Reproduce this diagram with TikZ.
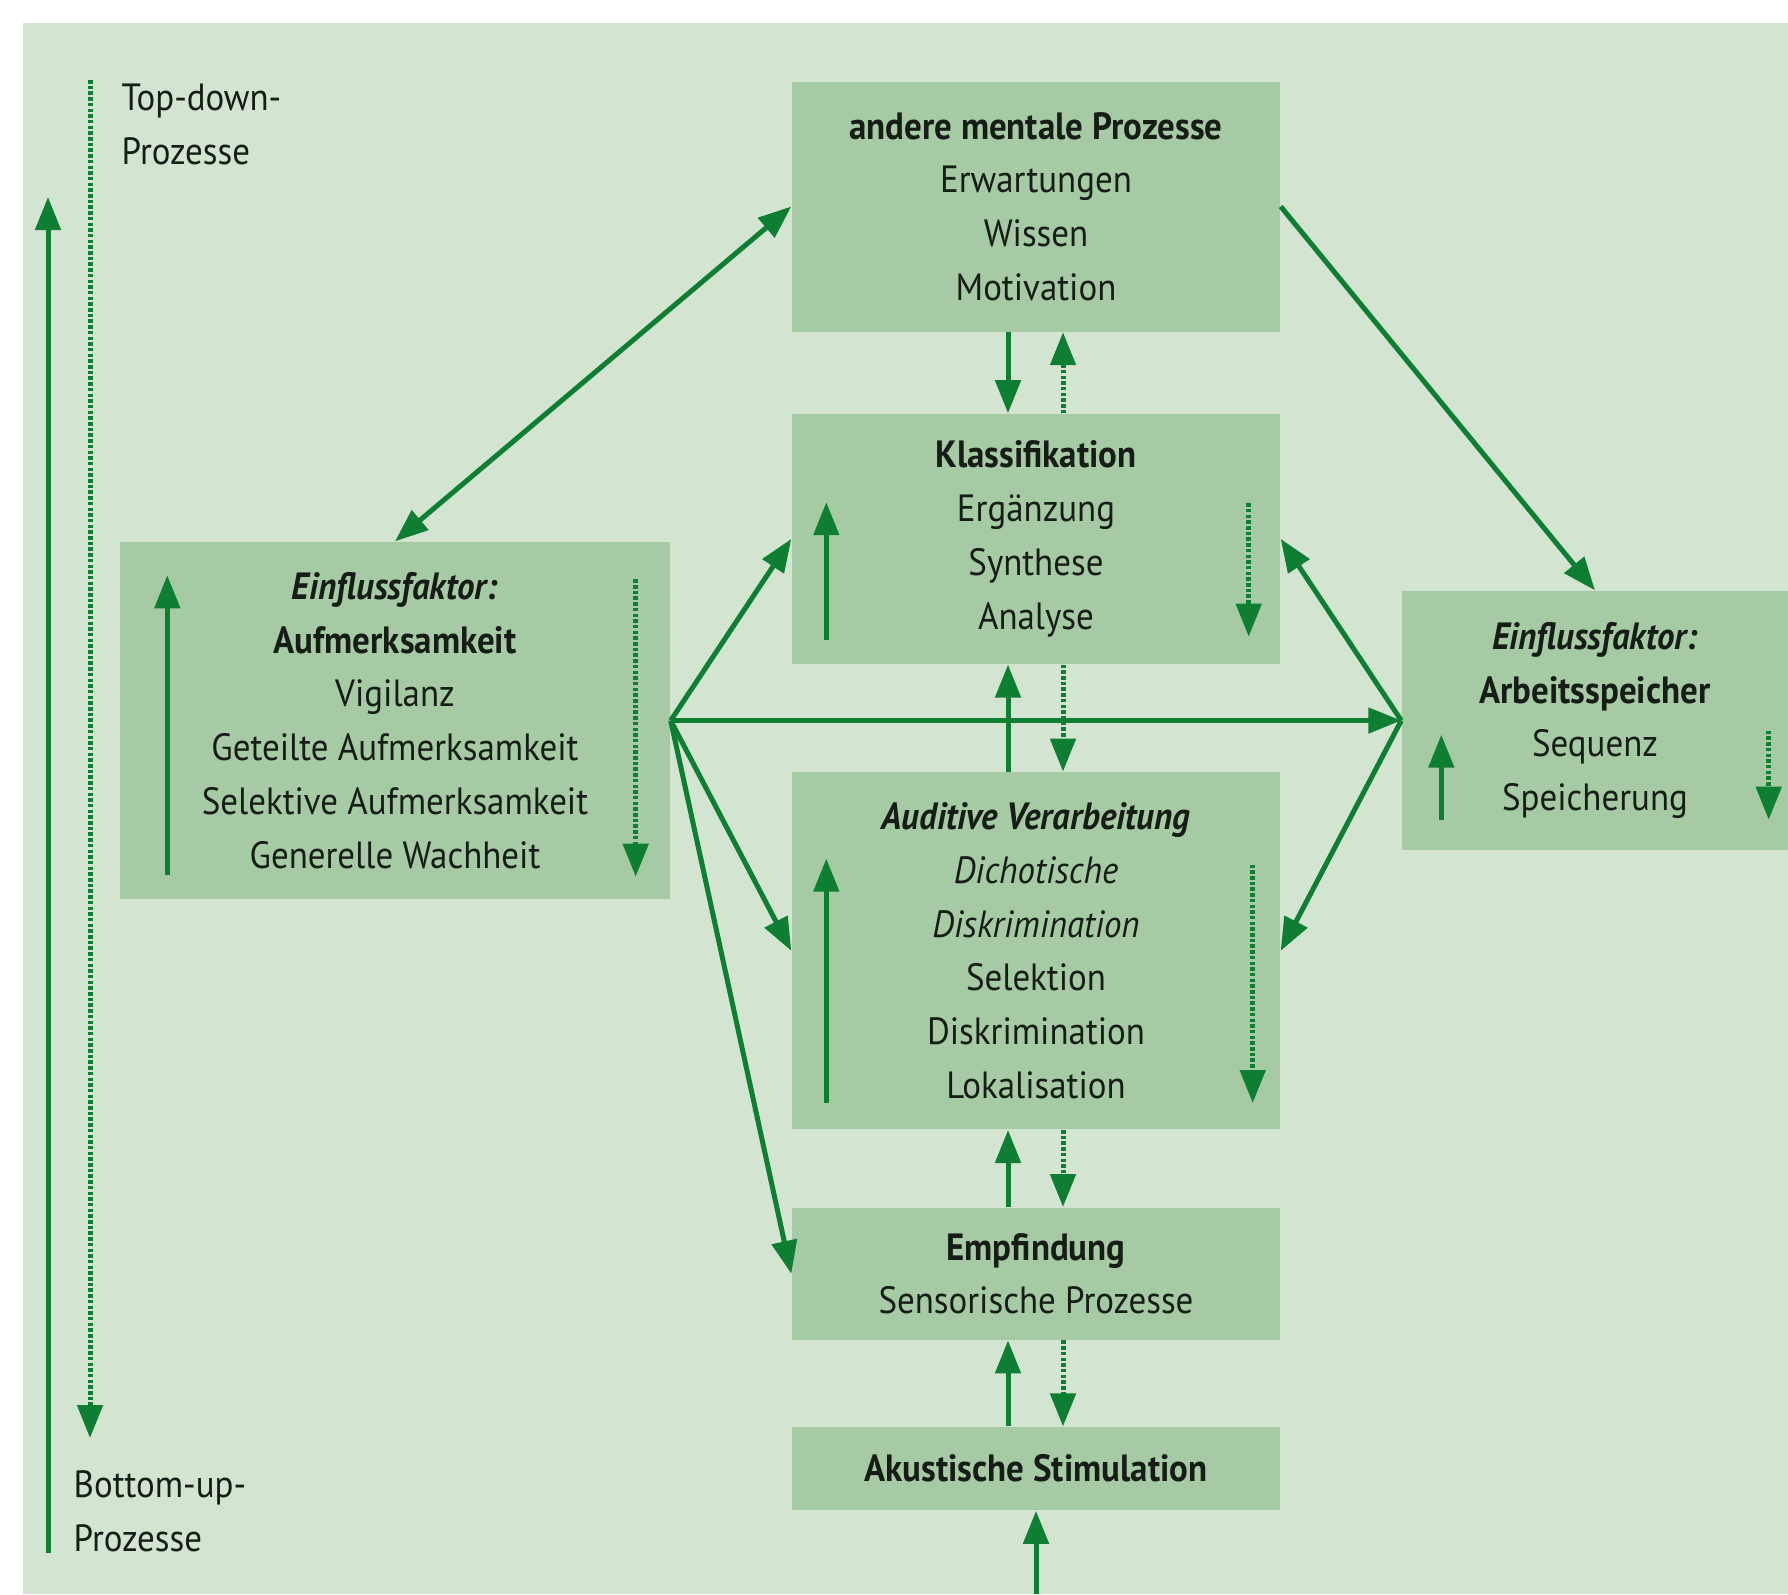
\documentclass[tikz,border=0pt]{standalone}
\usepackage{fontspec}
\setmainfont{PT Sans}[FakeStretch=0.92]
\usetikzlibrary{positioning, arrows.meta, calc}

\definecolor{paper}{RGB}{211,228,208}
\definecolor{boxgreen}{RGB}{166,203,164}
\definecolor{arrowgreen}{RGB}{14,126,50}
\definecolor{ink}{RGB}{22,28,22}

\tikzset{
	box/.style={fill=boxgreen, text=ink, align=center, inner sep=0pt, minimum width=48.8mm, font=\fontsize{10.8}{15.3}\selectfont},
	flow/.style={draw=arrowgreen, line width=0.5mm, -{Triangle[length=3.3mm,width=2.5mm]}},
	dotflow/.style={flow, line width=0.5mm, dash pattern=on 0.35mm off 0.22mm},
	plain/.style={text=ink, align=left, inner sep=0pt, font=\fontsize{10.8}{15.3}\selectfont},
}

\begin{document}
\begin{tikzpicture}[x=0.1mm, y=-0.1mm]

		% page and panel %
		\useasboundingbox[fill=white] (0,0) rectangle (1788,1594);
		\fill[paper] (23,23) rectangle (1788,1594);

		% nodes - middle column %
		\node[box, minimum height=25mm] (mental) at (1036,206.5) {\textbf{andere mentale Prozesse}\\Erwartungen\\Wissen\\Motivation};
		\node[box, minimum height=25mm, below=8.1mm of mental] (klass) {\textbf{Klassifikation}\\Ergänzung\\Synthese\\Analyse};
		\node[box, minimum height=35.7mm, below=10.7mm of klass] (audit) {\textbf{\textit{Auditive Verarbeitung}}\\\textit{Dichotische}\\\textit{Diskrimination}\\Selektion\\Diskrimination\\Lokalisation};
		\node[box, minimum height=13.2mm, below=7.7mm of audit] (empf) {\textbf{Empfindung}\\Sensorische Prozesse};
		\node[box, minimum height=8.3mm, below=8.6mm of empf] (stim) {\textbf{Akustische Stimulation}};

		% nodes - influence factors %
		\node[box, minimum width=55mm, minimum height=35.7mm] (aufm) at (395,720.5) {\textbf{\textit{Einflussfaktor:}}\\\textbf{Aufmerksamkeit}\\Vigilanz\\Geteilte Aufmerksamkeit\\Selektive Aufmerksamkeit\\Generelle Wachheit};
		\node[box, minimum width=38.6mm, minimum height=25.9mm] (speicher) at (1595,720.5) {\textbf{\textit{Einflussfaktor:}}\\\textbf{Arbeitsspeicher}\\Sequenz\\Speicherung};

		% legend %
		\node[plain, anchor=west] (topdown) at (121,124.5) {Top-down-\\Prozesse};
		\node[plain, anchor=west] (bottomup) at (73,1511) {Bottom-up-\\Prozesse};
		\coordinate (bu0) at (48,1553);
		\coordinate (bu1) at (48,197);
		\coordinate (td0) at (90,80);
		\coordinate (td1) at (90,1438);
		\coordinate (src) at (1036,1594);

		% edges - legend %
		\draw[flow] (bu0) -- (bu1);
		\draw[dotflow] (td0) -- (td1);

		% edges - middle column %
		\draw[flow] ([xshift=-2.8mm]mental.south) -- ([xshift=-2.8mm]klass.north);
		\draw[dotflow] ([xshift=2.7mm]klass.north) -- ([xshift=2.7mm]mental.south);
		\draw[flow] ([xshift=-2.8mm]audit.north) -- ([xshift=-2.8mm]klass.south);
		\draw[dotflow] ([xshift=2.7mm]klass.south) -- ([xshift=2.7mm]audit.north);
		\draw[flow] ([xshift=-2.8mm]empf.north) -- ([xshift=-2.8mm]audit.south);
		\draw[dotflow] ([xshift=2.7mm]audit.south) -- ([xshift=2.7mm]empf.north);
		\draw[flow] ([xshift=-2.8mm]stim.north) -- ([xshift=-2.8mm]empf.south);
		\draw[dotflow] ([xshift=2.7mm]empf.south) -- ([xshift=2.7mm]stim.north);
		\draw[flow] (src) -- (stim.south);

		% edges - influence factors %
		\draw[flow, {Triangle[length=3.3mm,width=2.5mm]}-{Triangle[length=3.3mm,width=2.5mm]}] (aufm.north) -- (mental.west);
		\draw[flow] (mental.east) -- (speicher.north);
		\draw[flow] (aufm.east) -- (klass.west);
		\draw[flow] (aufm.east) -- (speicher.west);
		\draw[flow] (aufm.east) -- (audit.west);
		\draw[flow] (aufm.east) -- (empf.west);
		\draw[flow] (speicher.west) -- (klass.east);
		\draw[flow] (speicher.west) -- (audit.east);

		% edges - inside the boxes %
		\draw[flow] ($(klass.south west)+(35,-25)$) -- ($(klass.north west)+(35,89)$);
		\draw[dotflow] ($(klass.north east)+(-32,90)$) -- ($(klass.south east)+(-32,-28)$);
		\draw[flow] ($(audit.south west)+(35,-27)$) -- ($(audit.north west)+(35,87)$);
		\draw[dotflow] ($(audit.north east)+(-28,93)$) -- ($(audit.south east)+(-28,-27)$);
		\draw[flow] ($(aufm.south west)+(48,-25)$) -- ($(aufm.north west)+(48,34)$);
		\draw[dotflow] ($(aufm.north east)+(-35,38)$) -- ($(aufm.south east)+(-35,-23)$);
		\draw[flow] ($(speicher.south west)+(40,-31)$) -- ($(speicher.south west)+(40,-116)$);
		\draw[dotflow] ($(speicher.south east)+(-20,-120)$) -- ($(speicher.south east)+(-20,-31)$);

\end{tikzpicture}
\end{document}
